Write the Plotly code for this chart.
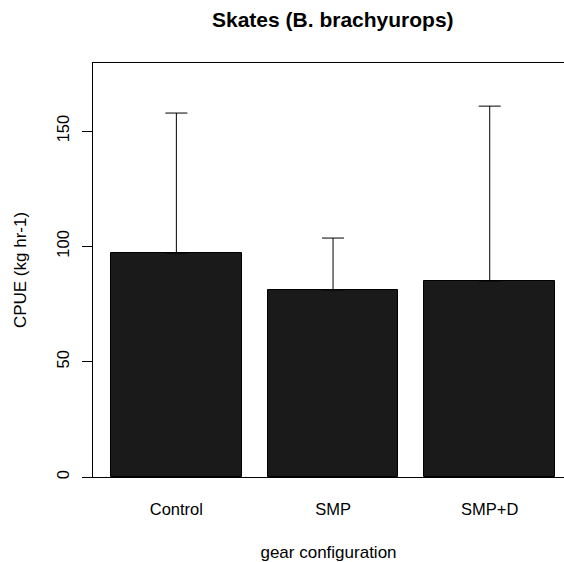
import plotly.graph_objects as go

categories = ["Control", "SMP", "SMP+D"]
cpue = [97.1, 81.1, 85.0]
err_upper = [60.7, 22.5, 75.8]   # upper error (mean + err = top of whisker)
y_ticks = [0, 50, 100, 150]

FONT = "Liberation Sans, Arial, sans-serif"

fig = go.Figure()
fig.add_trace(go.Bar(
    x=[0, 1, 2],
    y=cpue,
    width=0.833,
    marker=dict(color="#1a1a1a", line=dict(color="#000000", width=1)),
    error_y=dict(type="data", symmetric=False, array=err_upper,
                 arrayminus=[0, 0, 0], color="#000000", thickness=1, width=11),
    showlegend=False,
))

fig.update_layout(
    width=564, height=562,
    margin=dict(l=93, r=0, t=63, b=85),
    paper_bgcolor="white", plot_bgcolor="white",
    font=dict(family=FONT, size=17, color="#000000"),
    bargap=0,
    annotations=[dict(
        text="<b>Skates (B. brachyurops)</b>",
        xref="paper", yref="paper", x=(333 - 93) / 471, y=1,
        xanchor="center", yanchor="bottom", yshift=30, showarrow=False,
        font=dict(family=FONT, size=21, color="#000000"),
    )],
)

fig.update_xaxes(
    range=[-0.532, 2.474],
    tickmode="array", tickvals=[0, 1, 2], ticktext=categories,
    ticks="outside", ticklen=17, tickcolor="rgba(0,0,0,0)",
    tickfont=dict(size=16.5),
    showline=True, linecolor="#000000", linewidth=1, mirror=True,
    showgrid=False, zeroline=False,
    title=dict(text="gear configuration", font=dict(size=17), standoff=29),
)
fig.update_yaxes(
    range=[0, 179.5],
    tickmode="array", tickvals=y_ticks, ticktext=[str(v) for v in y_ticks],
    ticks="outside", ticklen=10, tickcolor="#000000", tickwidth=1,
    tickangle=-90, tickfont=dict(size=16.5), ticklabelstandoff=6,
    showline=True, linecolor="#000000", linewidth=1, mirror=False,
    showgrid=False, zeroline=False,
    title=dict(text="CPUE (kg hr-1)", font=dict(size=17), standoff=23),
)

fig.write_html(
    "out.html",
    config={"displayModeBar": False},
    post_script="document.body.style.margin='0';document.body.style.overflow='hidden';",
)
